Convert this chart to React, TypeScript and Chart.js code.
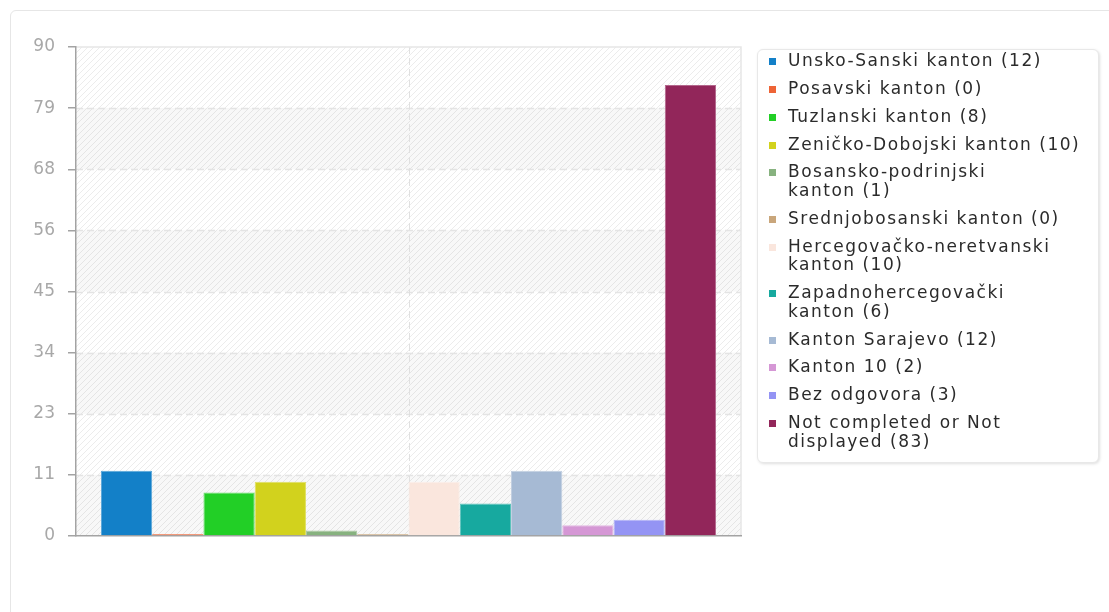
import React, { useEffect, useRef } from "react";
import { Chart, registerables } from "chart.js";

Chart.register(...registerables);

const categories = [
  "Unsko-Sanski kanton",
  "Posavski kanton",
  "Tuzlanski kanton",
  "Zeničko-Dobojski kanton",
  "Bosansko-podrinjski kanton",
  "Srednjobosanski kanton",
  "Hercegovačko-neretvanski kanton",
  "Zapadnohercegovački kanton",
  "Kanton Sarajevo",
  "Kanton 10",
  "Bez odgovora",
  "Not completed or Not displayed",
];
const counts = [12, 0, 8, 10, 1, 0, 10, 6, 12, 2, 3, 83];
const colors = [
  "#1380c8",
  "#ee6436",
  "#22cf26",
  "#d2d21d",
  "#87b27f",
  "#c9a67b",
  "#fae6dd",
  "#17a99f",
  "#a6bad4",
  "#d597d5",
  "#9494f4",
  "#92265a",
];
const yTickLabels = ["0", "11", "23", "34", "45", "56", "68", "79", "90"];
const Y_MIN = 0;
const Y_MAX = 90;
const WRAP_CHARS = 25;

function wrapWords(text: string, width: number): string[] {
  const words = text.split(" ");
  const lines: string[] = [];
  let cur = "";
  for (const w of words) {
    if (cur && (cur + " " + w).length > width) {
      lines.push(cur);
      cur = w;
    } else {
      cur = cur ? cur + " " + w : w;
    }
  }
  if (cur) lines.push(cur);
  return lines;
}

function lighten(hex: string, amt: number): string {
  const n = parseInt(hex.slice(1), 16);
  const r = (n >> 16) & 255;
  const g = (n >> 8) & 255;
  const b = n & 255;
  const f = (c: number) => Math.round(c + (255 - c) * amt);
  return `rgb(${f(r)}, ${f(g)}, ${f(b)})`;
}

const backgroundPlugin = {
  id: "plotBackground",
  beforeDraw(chart: any) {
    const { ctx, chartArea: a, scales } = chart;
    const y = scales.y;
    const x = scales.x;
    const w = a.right - a.left;
    const h = a.bottom - a.top;
    ctx.save();
    ctx.beginPath();
    ctx.rect(a.left, a.top, w, h);
    ctx.clip();
    ctx.fillStyle = "#ffffff";
    ctx.fillRect(a.left, a.top, w, h);
    const ticks = y.ticks;
    for (let i = 0; i < ticks.length - 1; i++) {
      if (i % 2 === 0) {
        const y0 = y.getPixelForValue(ticks[i].value);
        const y1 = y.getPixelForValue(ticks[i + 1].value);
        ctx.fillStyle = "#f8f8f8";
        ctx.fillRect(a.left, y1, w, y0 - y1);
      }
    }
    ctx.strokeStyle = "rgba(0,0,0,0.075)";
    ctx.lineWidth = 1;
    ctx.beginPath();
    for (let xx = a.left - h; xx < a.right + 6; xx += 6) {
      ctx.moveTo(xx, a.bottom);
      ctx.lineTo(xx + h, a.top);
    }
    ctx.stroke();

    // dashed grid lines
    ctx.setLineDash([7, 4]);
    ctx.strokeStyle = "#e4e4e4";
    ctx.lineWidth = 1.5;
    ctx.beginPath();
    for (let i = 1; i < ticks.length - 1; i++) {
      const py = Math.round(y.getPixelForValue(ticks[i].value)) + 0.5;
      ctx.moveTo(a.left, py);
      ctx.lineTo(a.right, py);
    }
    ctx.stroke();
    ctx.strokeStyle = "#e0e0e0";
    ctx.lineWidth = 1;
    ctx.beginPath();
    for (let i = 0; i < x.ticks.length; i++) {
      const px = Math.round(x.getPixelForTick(i)) + 0.5;
      ctx.moveTo(px, a.top);
      ctx.lineTo(px, a.bottom);
    }
    ctx.stroke();
    ctx.setLineDash([]);
    ctx.restore();

    ctx.save();
    ctx.strokeStyle = "#e6e6e6";
    ctx.lineWidth = 1.5;
    ctx.beginPath();
    ctx.moveTo(a.left, a.top);
    ctx.lineTo(a.right, a.top);
    ctx.lineTo(a.right, a.bottom);
    ctx.stroke();
    ctx.restore();
  },
};

const FONT = "'DejaVu Sans', Verdana, sans-serif";

export default function App() {
  const canvasRef = useRef<HTMLCanvasElement | null>(null);

  useEffect(() => {
    if (!canvasRef.current) return;
    const chart = new Chart(canvasRef.current, {
      type: "bar",
      data: {
        labels: [""],
        datasets: categories.map((c, i) => ({
          label: c,
          data: [counts[i]],
          backgroundColor: colors[i],
          borderColor: lighten(colors[i], 0.3),
          borderWidth: 1,
          minBarLength: 2,
          categoryPercentage: 0.925,
          barPercentage: 1,
        })),
      },
      options: {
        animation: false,
        responsive: true,
        maintainAspectRatio: false,
        layout: { padding: { left: 0, top: 47, right: 368, bottom: 76 } },
        plugins: {
          legend: { display: false },
          tooltip: { enabled: false },
        },
        scales: {
          x: {
            grid: { display: false, offset: false, drawTicks: false },
            border: { display: true, color: "#a3a3a3", width: 1.5 },
            ticks: { display: false },
          },
          y: {
            min: Y_MIN,
            max: Y_MAX,
            afterFit: (s: any) => {
              s.width = 76;
            },
            grid: {
              drawOnChartArea: false,
              drawTicks: true,
              tickLength: 8,
              color: "#a3a3a3",
              tickColor: "#a3a3a3",
              lineWidth: 1.5,
            },
            border: { display: true, color: "#a3a3a3", width: 1.5 },
            ticks: {
              stepSize: (Y_MAX - Y_MIN) / (yTickLabels.length - 1),
              padding: 13,
              color: "#a8a8a8",
              font: { family: FONT, size: 17 },
              callback: (_v: any, i: number) => yTickLabels[i],
            },
          },
        },
      },
      plugins: [backgroundPlugin],
    });
    return () => chart.destroy();
  }, []);

  return (
    <div style={{ position: "fixed", inset: 0, overflow: "hidden", background: "#fff" }}>
      <div
        style={{
          position: "absolute",
          left: 10,
          top: 10,
          width: 1300,
          height: 800,
          border: "1px solid #e6e6e6",
          borderRadius: 6,
          boxSizing: "border-box",
        }}
      />
      <div style={{ position: "absolute", left: 0, top: 0, width: 1109, height: 612 }}>
        <canvas ref={canvasRef} />
      </div>
      <div
        style={{
          position: "absolute",
          left: 757,
          top: 49,
          width: 342,
          boxSizing: "border-box",
          border: "1px solid #e8e8e8",
          borderRadius: 6,
          boxShadow: "1px 1px 3px rgba(0,0,0,0.13)",
          background: "#fff",
          padding: "1.3px 6px 11.5px 11px",
          fontFamily: FONT,
          fontSize: 17,
          letterSpacing: "1.5px",
          lineHeight: "18.8px",
          color: "#2b2b2b",
        }}
      >
        {categories.map((c, i) => {
          const lines = wrapWords(c, WRAP_CHARS);
          lines[lines.length - 1] = `${lines[lines.length - 1]} (${counts[i]})`;
          return (
            <div
              key={c}
              style={{
                display: "flex",
                alignItems: "flex-start",
                marginBottom: i === categories.length - 1 ? 0 : 8.95,
              }}
            >
              <div
                style={{
                  width: 7,
                  height: 7,
                  marginTop: 7.2,
                  marginRight: 12,
                  background: colors[i],
                  flex: "none",
                }}
              />
              <div style={{ whiteSpace: "nowrap" }}>
                {lines.map((l, j) => (
                  <div key={j}>{l}</div>
                ))}
              </div>
            </div>
          );
        })}
      </div>
    </div>
  );
}
